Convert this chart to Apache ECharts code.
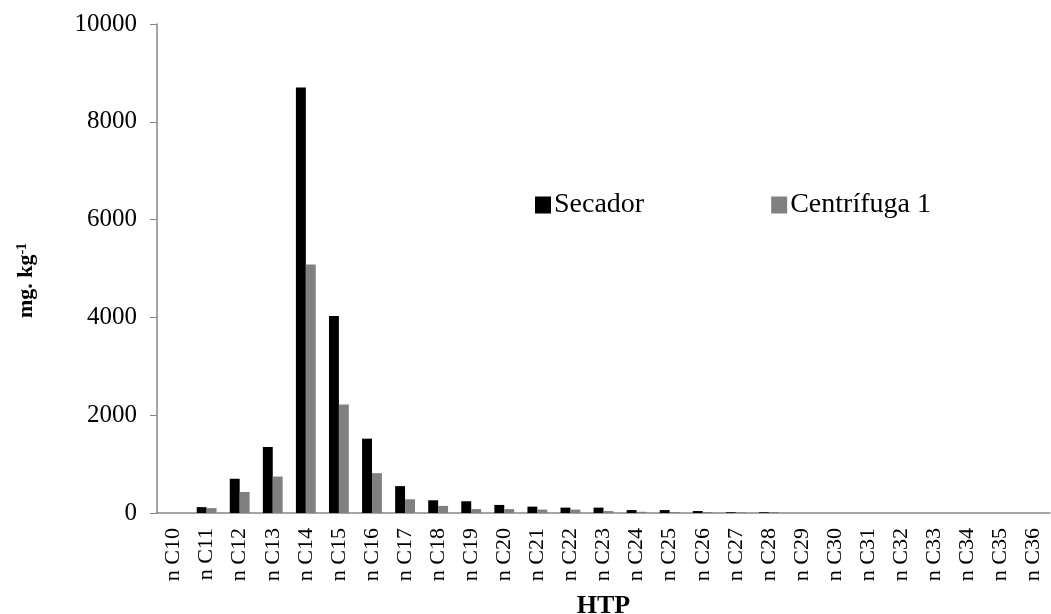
<!DOCTYPE html>
<html>
<head>
<meta charset="utf-8">
<script src="https://cdn.jsdelivr.net/npm/echarts@6/dist/echarts.min.js"></script>
<style>
  html, body { margin: 0; padding: 0; background: #fff; }
  #chart { width: 1051px; height: 614px; }
</style>
</head>
<body>
<div id="chart"></div>
<script>
// Hydrocarbon fractions (n-alkanes C10–C36), mg/kg
const categories = ['n C10','n C11','n C12','n C13','n C14','n C15','n C16','n C17','n C18',
  'n C19','n C20','n C21','n C22','n C23','n C24','n C25','n C26','n C27','n C28',
  'n C29','n C30','n C31','n C32','n C33','n C34','n C35','n C36'];
const secador = [0, 120, 700, 1350, 8700, 4030, 1520, 550, 260, 240, 165, 130, 110, 110,
  60, 60, 40, 15, 15, 0, 0, 0, 0, 0, 0, 0, 0];
const centrifuga1 = [0, 100, 430, 745, 5080, 2220, 815, 280, 145, 80, 80, 70, 70, 40,
  25, 20, 20, 15, 20, 0, 0, 0, 0, 0, 0, 0, 0];
const yTicks = { min: 0, max: 10000, interval: 2000 };

const serif = "'Liberation Serif', 'Times New Roman', serif";
const axisGray = '#868686';

const chart = echarts.init(document.getElementById('chart'));
chart.setOption({
  animation: false,
  backgroundColor: '#fff',
  grid: { left: 157, right: 1, top: 24, bottom: 101, containLabel: false, outerBoundsMode: 'none' },
  legend: {
    left: 530, top: 186,
    icon: 'rect', itemWidth: 16, itemHeight: 17, itemGap: 127,
    textStyle: { fontFamily: serif, fontSize: 28, color: '#000', padding: [0, 0, 0, -2] },
    data: ['Secador', 'Centrífuga 1']
  },
  xAxis: {
    type: 'category',
    data: categories,
    name: 'HTP',
    nameLocation: 'middle',
    nameGap: 80,
    nameTextStyle: { fontFamily: serif, fontSize: 26, fontWeight: 'bold', color: '#000' },
    axisLine: { lineStyle: { color: axisGray, width: 1.5 } },
    axisTick: { alignWithLabel: false, length: 7, lineStyle: { color: axisGray } },
    axisLabel: { rotate: 90, interval: 0, margin: 15, fontFamily: serif, fontSize: 22, color: '#000' }
  },
  yAxis: {
    type: 'value',
    min: yTicks.min, max: yTicks.max, interval: yTicks.interval,
    name: '{b|mg. kg}{s|-1}',
    nameLocation: 'middle',
    nameRotate: 90,
    nameGap: 120,
    nameTextStyle: {
      padding: [0, 24, 0, 0],
      rich: {
        b: { fontFamily: serif, fontSize: 22, fontWeight: 'bold', color: '#000' },
        s: { fontFamily: serif, fontSize: 14, fontWeight: 'bold', color: '#000', verticalAlign: 'top', padding: [0, 0, 8, 0] }
      }
    },
    splitLine: { show: false },
    axisLine: { show: true, lineStyle: { color: axisGray, width: 1.5 } },
    axisTick: { show: true, length: 7, lineStyle: { color: axisGray } },
    axisLabel: { margin: 20, fontFamily: serif, fontSize: 25, color: '#000', formatter: v => String(v) }
  },
  series: [
    {
      name: 'Secador', type: 'bar', data: secador,
      itemStyle: { color: '#000000' },
      barGap: '0%', barCategoryGap: '40%'
    },
    {
      name: 'Centrífuga 1', type: 'bar', data: centrifuga1,
      itemStyle: { color: '#808080' },
      barGap: '0%', barCategoryGap: '40%'
    }
  ]
});
</script>
</body>
</html>
